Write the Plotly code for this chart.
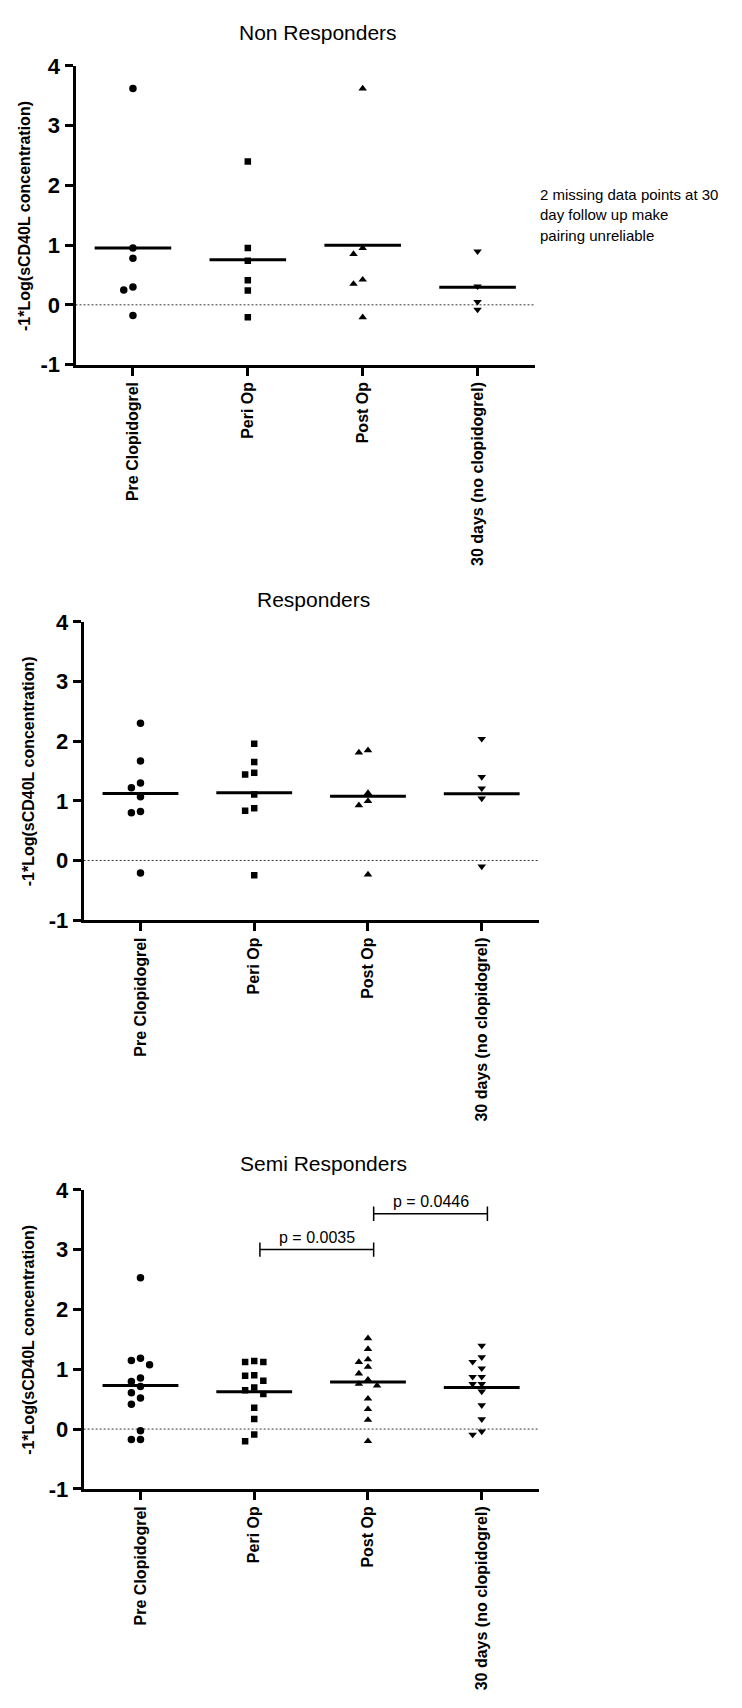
import plotly.graph_objects as go

# ---------------------------------------------------------------------------
# Data: -1*Log(sCD40L concentration) per patient, per time point
# ---------------------------------------------------------------------------
CATEGORIES = ["Pre Clopidogrel", "Peri Op", "Post Op", "30 days (no clopidogrel)"]
Y_TICKS = [-1, 0, 1, 2, 3, 4]

non_pre = [3.62, 0.95, 0.78, 0.30, 0.25, -0.18]
non_peri = [2.40, 0.95, 0.74, 0.41, 0.24, -0.21]
non_post = [3.62, 0.95, 0.85, 0.42, 0.35, -0.21]
non_30d = [0.895, 0.31, 0.05, -0.08]

resp_pre = [2.30, 1.67, 1.30, 1.22, 1.07, 0.82, 0.80, -0.21]
resp_peri = [1.956, 1.65, 1.47, 1.44, 1.107, 0.877, 0.833, -0.247]
resp_post = [1.847, 1.81, 1.13, 0.997, 0.926, -0.236]
resp_30d = [2.04, 1.40, 1.21, 1.04, -0.10]

semi_pre = [2.53, 1.185, 1.147, 1.076, 0.852, 0.797, 0.710, 0.606, 0.518, 0.415,
            -0.028, -0.175, -0.175]
semi_peri = [1.136, 1.12, 1.12, 0.90, 0.89, 0.808, 0.693, 0.65, 0.584, 0.354,
             0.169, -0.093, -0.203]
semi_post = [1.518, 1.338, 1.164, 1.12, 1.038, 0.928, 0.825, 0.754, 0.726, 0.508,
             0.333, 0.152, -0.203]
semi_30d = [1.393, 1.202, 1.125, 1.016, 0.874, 0.874, 0.754, 0.754, 0.628, 0.398,
            0.164, -0.039, -0.093]

PANEL_TITLES = ["Non Responders", "Responders", "Semi Responders"]
PANEL_DATA = [
    [non_pre, non_peri, non_post, non_30d],
    [resp_pre, resp_peri, resp_post, resp_30d],
    [semi_pre, semi_peri, semi_post, semi_30d],
]
Y_TITLE = "-1*Log(sCD40L concentration)"
NOTE_LINES = ["2 missing data points at 30", "day follow up make", "pairing unreliable"]

# significance comparisons in the Semi Responders panel: (from, to, label, height)
SEMI_COMPARISONS = [(1, 2, "p = 0.0035", 3.0), (2, 3, "p = 0.0446", 3.6)]

# ---------------------------------------------------------------------------
# Layout / style
# ---------------------------------------------------------------------------
W, H = 742, 1708
FONT = "Liberation Sans, Arial, Helvetica, sans-serif"
SYMBOLS = ["circle", "square", "triangle-up", "triangle-down"]
SIZES = [7.5, 6.5, 7.5, 7.5]
AXIS_LW = 3

# pixel frames of the three panels: left, right, top (y=4), bottom (y=-1)
FRAMES = [
    dict(x0=75.5, x1=535, ytop=54.7, ybot=357.8, title=(318, 21), ytitle=(25, 207)),
    dict(x0=83.6, x1=538.6, ytop=619, ybot=921.6, title=(313, 596), ytitle=(28.6, 771)),
    dict(x0=83.6, x1=538.6, ytop=1195.3, ybot=1498.8, title=(323, 1169), ytitle=(28.6, 1348)),
]


def paper_x(px):
    return px / W


def paper_y(py):
    return 1 - py / H


def swarm_offsets(values, px_per_x, px_per_y, step=0.08, diam=7.0):
    """Bee-swarm horizontal offsets (in category units) so markers don't overlap."""
    order = sorted(range(len(values)), key=lambda i: -values[i])
    placed = []
    offs = [0.0] * len(values)
    slots = [0, -1, 1, -2, 2, -3, 3]
    for i in order:
        y = values[i] * px_per_y
        for k in slots:
            x = k * step * px_per_x
            if all((x - px) ** 2 + (y - py) ** 2 >= diam ** 2 for px, py in placed):
                placed.append((x, y))
                offs[i] = k * step
                break
    return offs


fig = go.Figure()
layout_axes = {}
annotations = []
shapes = []

for p, (frame, groups, title) in enumerate(zip(FRAMES, PANEL_DATA, PANEL_TITLES)):
    n = "" if p == 0 else str(p + 1)
    xref, yref = "x" + n, "y" + n
    px_per_x = (frame["x1"] - frame["x0"]) / 4.0
    px_per_y = (frame["ybot"] - frame["ytop"]) / 5.0

    for c, vals in enumerate(groups):
        offs = swarm_offsets(vals, px_per_x, px_per_y)
        fig.add_trace(go.Scatter(
            x=[c + o for o in offs], y=vals, mode="markers",
            marker=dict(symbol=SYMBOLS[c], size=SIZES[c], color="black",
                        line=dict(width=0)),
            xaxis=xref, yaxis=yref, showlegend=False, hoverinfo="y",
        ))
        mean = sum(vals) / len(vals)
        fig.add_trace(go.Scatter(
            x=[c - 1 / 3, c + 1 / 3], y=[mean, mean], mode="lines",
            line=dict(color="black", width=3),
            xaxis=xref, yaxis=yref, showlegend=False, hoverinfo="skip",
        ))

    # dotted reference line at zero
    shapes.append(dict(type="line", xref=xref, yref=yref, x0=-0.5, x1=3.5, y0=0, y1=0,
                       line=dict(color="#333333", width=1, dash="2px,2px"), layer="below"))

    axis_common = dict(showline=True, linewidth=AXIS_LW, linecolor="black",
                       ticks="outside", ticklen=8, tickwidth=AXIS_LW, tickcolor="black",
                       showgrid=False, zeroline=False, fixedrange=True)
    layout_axes["xaxis" + n] = dict(
        axis_common, domain=[paper_x(frame["x0"]), paper_x(frame["x1"])],
        range=[-0.5, 3.5], tickvals=list(range(len(CATEGORIES))), ticktext=CATEGORIES,
        tickangle=-90, anchor=yref,
        tickfont=dict(family=FONT, size=16, color="black", weight="bold"),
    )
    layout_axes["yaxis" + n] = dict(
        axis_common, domain=[paper_y(frame["ybot"]), paper_y(frame["ytop"])],
        range=[-1, 4], tickvals=Y_TICKS, ticktext=[str(t) for t in Y_TICKS],
        anchor=xref,
        tickfont=dict(family=FONT, size=22, color="black", weight="bold"),
    )

    annotations.append(dict(
        text=title, xref="paper", yref="paper",
        x=paper_x(frame["title"][0]), y=paper_y(frame["title"][1]),
        xanchor="center", yanchor="middle", showarrow=False,
        font=dict(family=FONT, size=21, color="black"),
    ))
    annotations.append(dict(
        text=Y_TITLE, xref="paper", yref="paper", textangle=-90,
        x=paper_x(frame["ytitle"][0]), y=paper_y(frame["ytitle"][1]),
        xanchor="center", yanchor="middle", showarrow=False,
        font=dict(family=FONT, size=16, color="black", weight="bold"),
    ))

# note beside the Non Responders panel
for i, line in enumerate(NOTE_LINES):
    annotations.append(dict(
        text=line, xref="paper", yref="paper",
        x=paper_x(538), y=paper_y(185 + 20.8 * i),
        xanchor="left", yanchor="middle", showarrow=False,
        font=dict(family=FONT, size=15, color="black"),
    ))

# significance brackets in the Semi Responders panel
BRACKET_SHIFT = 0.05
CAP = 0.12
for a, b, label, h in SEMI_COMPARISONS:
    xa, xb = a + BRACKET_SHIFT, b + BRACKET_SHIFT
    for seg in [(xa, h, xb, h), (xa, h - CAP, xa, h + CAP), (xb, h - CAP, xb, h + CAP)]:
        shapes.append(dict(type="line", xref="x3", yref="y3",
                           x0=seg[0], y0=seg[1], x1=seg[2], y1=seg[3],
                           line=dict(color="black", width=1.5)))
    annotations.append(dict(
        text=label, xref="x3", yref="y3", x=(xa + xb) / 2, y=h + 0.2,
        xanchor="center", yanchor="middle", showarrow=False,
        font=dict(family=FONT, size=16, color="black"),
    ))

fig.update_layout(
    width=W, height=H, margin=dict(l=0, r=0, t=0, b=0),
    paper_bgcolor="white", plot_bgcolor="white",
    annotations=annotations, shapes=shapes,
    font=dict(family=FONT, color="black"),
    **layout_axes,
)

fig.write_html("out.html", config={"displayModeBar": False})
